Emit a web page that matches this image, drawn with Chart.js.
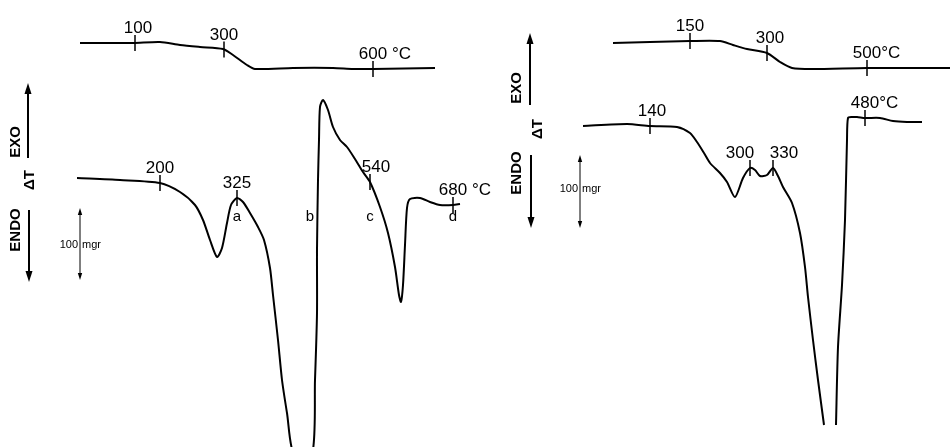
<!DOCTYPE html>
<html lang="en">
<head>
<meta charset="UTF-8">
<title>DTA and TG curves</title>
<script src="https://cdn.jsdelivr.net/npm/chart.js"></script>
<style>
    body { margin: 0; background: #fff; }
    #wrap { width: 951px; height: 447px; }
</style>
</head>
<body>
<div id="wrap"><canvas id="dtaChart" width="951" height="447"></canvas></div>
<script>
// curves: pos = along the paper, val = deflection (downwards)
const tgLeftPos = [80, 133, 160, 180, 200, 223, 233, 247, 255, 293, 333, 353, 373, 435];
const tgLeftVal = [43, 43, 42, 45, 47, 49, 55, 65, 69, 68, 68, 69, 69, 68];

const dtaLeftPos = [77, 120, 160, 180, 195, 203, 210, 217, 222, 227, 231, 237, 243, 250, 258, 264, 270, 273, 278, 282, 287, 294,
                    312, 315, 317, 317, 318, 319, 320, 323, 328, 333, 340, 347, 355, 363, 370, 380, 388, 395, 399, 401, 403, 405, 407, 410, 420, 430, 440, 453, 460];
const dtaLeftVal = [178, 180, 183, 192, 205, 220, 240, 257, 248, 223, 205, 198, 202, 213, 227, 240, 268, 295, 340, 380, 413, 455,
                    455, 380, 313, 250, 180, 140, 107, 100, 110, 127, 140, 147, 159, 172, 182, 207, 233, 267, 295, 302, 285, 245, 208, 199, 198, 202, 205, 205, 204];

const tgRightPos = [613, 650, 690, 720, 733, 747, 767, 780, 792, 813, 867, 950];
const tgRightVal = [43, 42, 41, 41, 45, 49, 53, 62, 68, 69, 68, 68];

const dtaRightPosA = [583, 627, 650, 677, 690, 697, 704, 710, 720, 727, 735, 743, 750, 755, 760, 767, 773, 778, 783, 792, 800, 805, 808, 813, 818, 824];
const dtaRightValA = [126, 124, 126, 127, 133, 142, 153, 163, 173, 182, 197, 178, 168, 170, 176, 175, 168, 176, 187, 203, 233, 267, 297, 340, 380, 425];
const dtaRightPosB = [836, 838, 842, 845, 847, 848, 852, 857, 865, 880, 893, 907, 922];
const dtaRightValB = [425, 347, 285, 220, 140, 118, 117, 117, 118, 118, 121, 122, 122];

// temperature marks (label, where on the curve)
const tgLeftTemps = ['100', '300', '600'];
const tgLeftTickAt = [135, 224, 373];
const dtaLeftTemps = ['200', '325', '540', '680'];
const dtaLeftTickAt = [160, 237, 370, 453];
const tgRightTemps = ['150', '300', '500'];
const tgRightTickAt = [690, 767, 867];
const dtaRightTemps = ['140', '300', '330', '480'];
const dtaRightTickAt = [650, 750, 773, 865];

const dtaLeftLetters = ['a', 'b', 'c', 'd'];
const dtaLeftLetterAt = [237, 310, 370, 453];

function pts(xs, ys) { return xs.map((x, i) => ({ x: x, y: ys[i] })); }

function valueAt(xs, ys, at) {
    for (let i = 0; i < xs.length - 1; i++) {
        if (xs[i] !== xs[i + 1] && (xs[i] - at) * (xs[i + 1] - at) <= 0) {
            return ys[i] + (ys[i + 1] - ys[i]) * (at - xs[i]) / (xs[i + 1] - xs[i]);
        }
    }
    return ys[ys.length - 1];
}

const tickSets = [
    { pos: tgLeftPos, val: tgLeftVal, temps: tgLeftTemps, at: tgLeftTickAt, unit: ' °C', shift: [3, 0, 0] },
    { pos: dtaLeftPos, val: dtaLeftVal, temps: dtaLeftTemps, at: dtaLeftTickAt, unit: ' °C', shift: [0, 0, 6, 0] },
    { pos: tgRightPos, val: tgRightVal, temps: tgRightTemps, at: tgRightTickAt, unit: '°C', shift: [0, 3, 0] },
    { pos: dtaRightPosA.concat(dtaRightPosB), val: dtaRightValA.concat(dtaRightValB), temps: dtaRightTemps, at: dtaRightTickAt, unit: '°C', shift: [2, -10, 11, 0] }
];

// EXO / ENDO axis with scale bar for each panel
const panels = [
    { axis: 28, exo: [158, 83], endo: [210, 282], exoText: 142, dtText: 180, endoText: 230, textX: 16, dtX: 30, bar: 80, barSpan: [208, 280], barText: 248 },
    { axis: 530, exo: [105, 33], endo: [155, 228], exoText: 88, dtText: 129, endoText: 173, textX: 517, dtX: 538, bar: 580, barSpan: [155, 228], barText: 192 }
];

const FONT = '"Liberation Sans", Arial, sans-serif';

function arrowHead(ctx, x, y, dir, len, half) {
    ctx.beginPath();
    ctx.moveTo(x, y);
    ctx.lineTo(x - half, y - dir * len);
    ctx.lineTo(x + half, y - dir * len);
    ctx.closePath();
    ctx.fill();
}

const annotate = {
    id: 'annotate',
    afterDatasetsDraw(chart) {
        const ctx = chart.ctx;
        const px = v => chart.scales.x.getPixelForValue(v);
        const py = v => chart.scales.y.getPixelForValue(v);
        ctx.save();
        ctx.strokeStyle = '#000';
        ctx.fillStyle = '#000';

        // temperature ticks and labels
        tickSets.forEach(set => {
            set.at.forEach((at, i) => {
                const x = px(at), y = py(valueAt(set.pos, set.val, at));
                ctx.lineWidth = 1.5;
                ctx.beginPath();
                ctx.moveTo(x, y - 8);
                ctx.lineTo(x, y + 8);
                ctx.stroke();
                ctx.font = '17px ' + FONT;
                ctx.textBaseline = 'alphabetic';
                const num = set.temps[i];
                const w = ctx.measureText(num).width;
                const lx = x + set.shift[i] - w / 2;
                ctx.textAlign = 'left';
                ctx.fillText(num, lx, y - 10);
                if (i === set.at.length - 1) {
                    ctx.fillText(set.unit, lx + w, y - 10);
                }
            });
        });

        // letters under the left DTA curve
        ctx.font = '15px ' + FONT;
        ctx.textAlign = 'center';
        ctx.textBaseline = 'middle';
        dtaLeftLetters.forEach((l, i) => ctx.fillText(l, px(dtaLeftLetterAt[i]), py(217)));

        // axes with EXO / ENDO and scale bars
        panels.forEach(p => {
            const ax = px(p.axis);
            ctx.lineWidth = 2;
            ctx.beginPath();
            ctx.moveTo(ax, py(p.exo[0]));
            ctx.lineTo(ax, py(p.exo[1]) + 8);
            ctx.moveTo(ax + 1, py(p.endo[0]));
            ctx.lineTo(ax + 1, py(p.endo[1]) - 8);
            ctx.stroke();
            arrowHead(ctx, ax, py(p.exo[1]), -1, 11, 3.5);
            arrowHead(ctx, ax + 1, py(p.endo[1]), 1, 11, 3.5);

            const bx = px(p.bar);
            ctx.lineWidth = 1;
            ctx.beginPath();
            ctx.moveTo(bx, py(p.barSpan[0]) + 5);
            ctx.lineTo(bx, py(p.barSpan[1]) - 5);
            ctx.stroke();
            arrowHead(ctx, bx, py(p.barSpan[0]), -1, 7, 2.2);
            arrowHead(ctx, bx, py(p.barSpan[1]), 1, 7, 2.2);

            ctx.font = '11px ' + FONT;
            ctx.textBaseline = 'alphabetic';
            ctx.textAlign = 'right';
            ctx.fillText('100', bx - 2, py(p.barText));
            ctx.textAlign = 'left';
            ctx.fillText('mgr', bx + 2, py(p.barText));

            ctx.font = 'bold 15px ' + FONT;
            ctx.textAlign = 'center';
            ctx.textBaseline = 'middle';
            [['EXO', p.textX, p.exoText], ['\u0394T', p.dtX, p.dtText], ['ENDO', p.textX, p.endoText]].forEach(t => {
                ctx.save();
                ctx.translate(px(t[1]), py(t[2]));
                ctx.rotate(-Math.PI / 2);
                ctx.fillText(t[0], 0, 0);
                ctx.restore();
            });
        });
        ctx.restore();
    }
};

function curve(xs, ys) {
    return {
        data: pts(xs, ys),
        showLine: true,
        borderColor: '#000',
        borderWidth: 2,
        pointRadius: 0,
        tension: 0.25
    };
}

new Chart(document.getElementById('dtaChart').getContext('2d'), {
    type: 'scatter',
    data: {
        datasets: [
            curve(tgLeftPos, tgLeftVal),
            curve(dtaLeftPos, dtaLeftVal),
            curve(tgRightPos, tgRightVal),
            curve(dtaRightPosA, dtaRightValA),
            curve(dtaRightPosB, dtaRightValB)
        ]
    },
    options: {
        responsive: false,
        animation: false,
        layout: { padding: 0 },
        plugins: { legend: { display: false }, tooltip: { enabled: false } },
        scales: {
            x: { type: 'linear', min: 0, max: 951, display: false },
            y: { type: 'linear', min: 0, max: 447, reverse: true, display: false }
        }
    },
    plugins: [annotate]
});
</script>
</body>
</html>
